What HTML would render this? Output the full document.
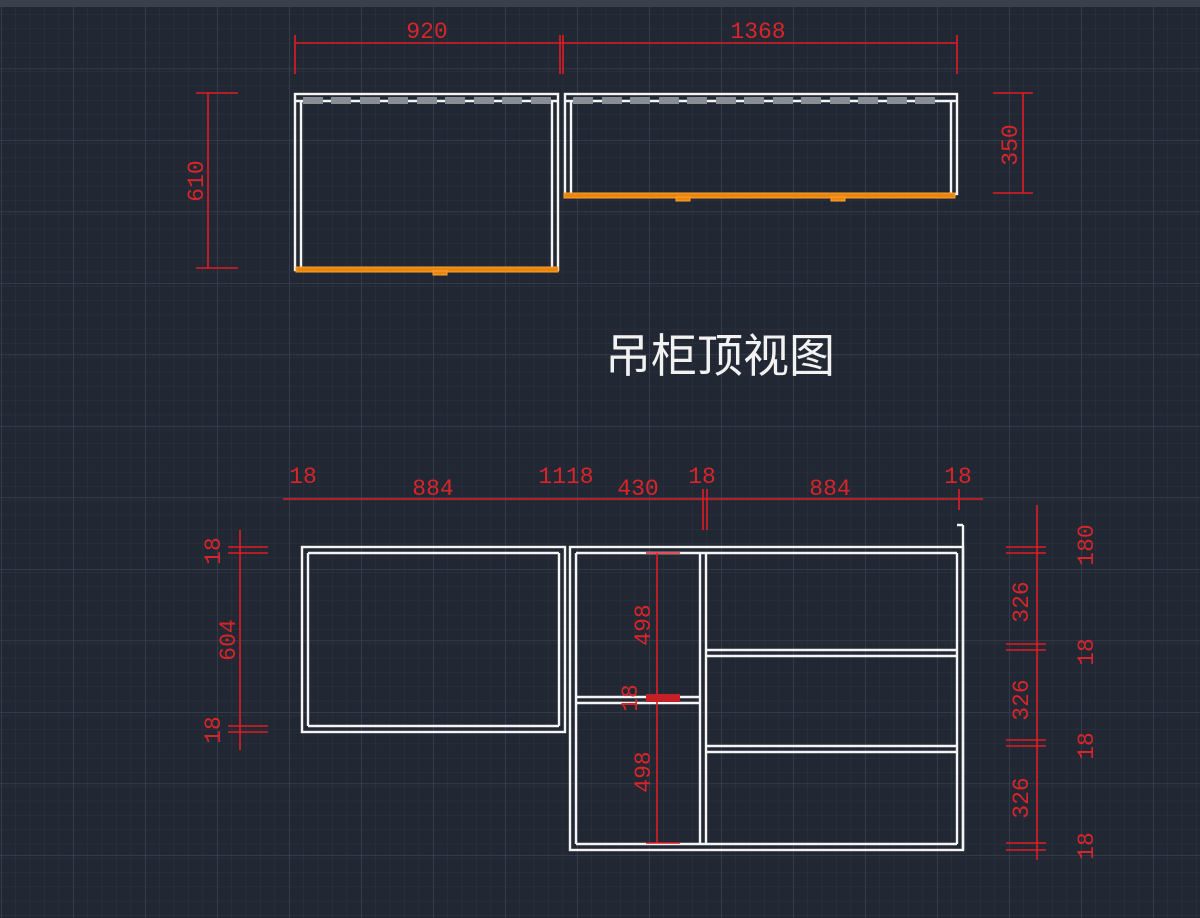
<!DOCTYPE html>
<html><head><meta charset="utf-8"><style>
html,body{margin:0;padding:0;background:#212832;}
svg{display:block;}
text{font-family:"Liberation Sans","Noto Sans CJK SC",sans-serif;}
.d{fill:none;stroke:#e21b24;stroke-width:1.6}
.t{fill:#d9242a;font-size:23px;font-family:"Liberation Mono","Noto Sans CJK SC",monospace}
.w{fill:none;stroke:#f4f4f4;stroke-width:2.4}
</style></head><body>
<svg width="1200" height="918" viewBox="0 0 1200 918" xmlns="http://www.w3.org/2000/svg">
<defs>
<pattern id="mn" width="14.4" height="14.3" patternUnits="userSpaceOnUse" x="1" y="0">
<path d="M0 0V14.3M0 0H14.4" stroke="#2c333f" stroke-width="1"/>
</pattern>
<pattern id="mj" width="72" height="71.5" patternUnits="userSpaceOnUse" x="1" y="-3">
<path d="M0 0V71.5M0 0H72" stroke="#3c4456" stroke-width="1.3"/>
</pattern>
</defs>
<rect width="1200" height="918" fill="#222833"/>
<rect width="1200" height="918" fill="url(#mn)"/>
<rect width="1200" height="918" fill="url(#mj)"/>
<rect width="1200" height="7" fill="#3a414d"/>

<!-- TOP VIEW -->
<g class="w">
<rect x="295" y="94" width="263" height="176"/>
<path d="M301 101V268M552 101V268M295 101H558"/>
<rect x="565" y="94" width="392" height="100"/>
<path d="M571 101V193M951 101V193M565 101H957"/>
</g>
<g fill="#8a8e94">
<rect x="303" y="97" width="20" height="7"/><rect x="331" y="97" width="20" height="7"/><rect x="360" y="97" width="20" height="7"/><rect x="388" y="97" width="20" height="7"/><rect x="417" y="97" width="20" height="7"/><rect x="445" y="97" width="20" height="7"/><rect x="474" y="97" width="20" height="7"/><rect x="502" y="97" width="20" height="7"/><rect x="531" y="97" width="20" height="7"/>
<rect x="573" y="97" width="20" height="7"/><rect x="602" y="97" width="20" height="7"/><rect x="630" y="97" width="20" height="7"/><rect x="659" y="97" width="20" height="7"/><rect x="687" y="97" width="20" height="7"/><rect x="716" y="97" width="20" height="7"/><rect x="744" y="97" width="20" height="7"/><rect x="773" y="97" width="20" height="7"/><rect x="801" y="97" width="20" height="7"/><rect x="830" y="97" width="20" height="7"/><rect x="858" y="97" width="20" height="7"/><rect x="887" y="97" width="20" height="7"/><rect x="915" y="97" width="20" height="7"/>
</g>
<g fill="#e8860e" stroke="#ffa030" stroke-width="1">
<rect x="296" y="267" width="262" height="5"/><rect x="433" y="271" width="14" height="4"/>
<rect x="564" y="193" width="391" height="5"/><rect x="676" y="197" width="14" height="4"/><rect x="831" y="197" width="14" height="4"/>
</g>
<g class="d">
<path d="M295 35V74M560 35V74M563 35V74M957 35V74M295 43H957"/>
<path d="M196 93H238M196 268H238M208 93V268"/>
<path d="M993 93H1033M993 193H1033M1023 93V193"/>
</g>
<text class="t" x="427" y="38" text-anchor="middle">920</text>
<text class="t" x="758" y="38" text-anchor="middle">1368</text>
<text class="t" transform="translate(203,181) rotate(-90)" text-anchor="middle">610</text>
<text class="t" transform="translate(1017,145) rotate(-90)" text-anchor="middle">350</text>

<text x="720" y="372" font-size="46" fill="#f2f2f2" text-anchor="middle" font-family="'Noto Sans CJK SC',sans-serif">吊柜顶视图</text>

<!-- BOTTOM VIEW -->
<g class="w">
<rect x="302" y="547" width="263" height="185"/>
<path d="M308 553V726M559 553V726M308 553H559M308 726H559"/>
<rect x="570" y="547" width="393" height="303"/>
<path d="M576 553V844M576 553H957M576 844H957M957 553V844M963 525V850M957 525H963"/>
<path d="M700 553V844M706 553V844"/>
<path d="M576 697H700M576 703H700"/>
<path d="M706 650H957M706 656H957M706 746H957M706 752H957"/>
</g>
<g class="d">
<path d="M283 499H983"/>
<path d="M703 489V530M707 489V530M959 489V510"/>
<path d="M228 547H268M228 553H268M228 726H268M228 732H268M240 530V750"/>
<path d="M1006 547H1046M1006 553H1046M1006 644H1046M1006 650H1046M1006 740H1046M1006 746H1046M1006 843H1046M1006 850H1046M1037 505V860"/>
<path d="M646 553H680M646 843H680M657 553V843"/>
</g>
<rect x="646" y="694" width="34" height="8" fill="#c42026"/>
<text class="t" x="303" y="483" text-anchor="middle">18</text>
<text class="t" x="433" y="495" text-anchor="middle">884</text>
<text class="t" x="566" y="483" text-anchor="middle">1118</text>
<text class="t" x="638" y="495" text-anchor="middle">430</text>
<text class="t" x="702" y="483" text-anchor="middle">18</text>
<text class="t" x="830" y="495" text-anchor="middle">884</text>
<text class="t" x="958" y="483" text-anchor="middle">18</text>
<text class="t" transform="translate(220,551) rotate(-90)" text-anchor="middle">18</text>
<text class="t" transform="translate(235,640) rotate(-90)" text-anchor="middle">604</text>
<text class="t" transform="translate(220,730) rotate(-90)" text-anchor="middle">18</text>
<text class="t" transform="translate(650,625) rotate(-90)" text-anchor="middle">498</text>
<text class="t" transform="translate(637,698) rotate(-90)" text-anchor="middle">18</text>
<text class="t" transform="translate(650,772) rotate(-90)" text-anchor="middle">498</text>
<text class="t" transform="translate(1093,545) rotate(-90)" text-anchor="middle">180</text>
<text class="t" transform="translate(1028,602) rotate(-90)" text-anchor="middle">326</text>
<text class="t" transform="translate(1093,652) rotate(-90)" text-anchor="middle">18</text>
<text class="t" transform="translate(1028,700) rotate(-90)" text-anchor="middle">326</text>
<text class="t" transform="translate(1093,746) rotate(-90)" text-anchor="middle">18</text>
<text class="t" transform="translate(1028,798) rotate(-90)" text-anchor="middle">326</text>
<text class="t" transform="translate(1093,846) rotate(-90)" text-anchor="middle">18</text>
</svg>
</body></html>
